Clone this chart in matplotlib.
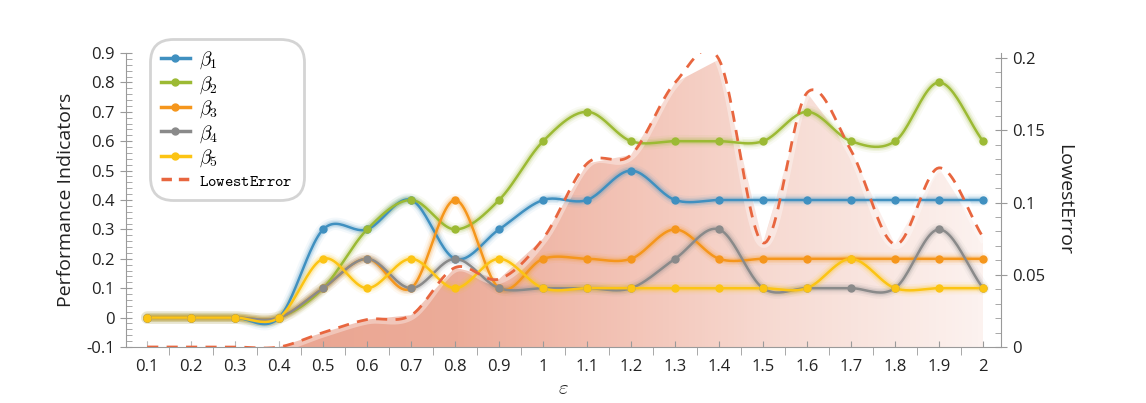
"""Performance indicators vs epsilon with LowestError on a twin axis."""

import matplotlib

matplotlib.use("Agg")
import numpy as np
from matplotlib import pyplot as plt
from matplotlib.lines import Line2D
from matplotlib.ticker import MultipleLocator, FixedLocator

eps = [0.1, 0.2, 0.3, 0.4, 0.5, 0.6, 0.7, 0.8, 0.9, 1.0,
       1.1, 1.2, 1.3, 1.4, 1.5, 1.6, 1.7, 1.8, 1.9, 2.0]
beta1 = [0, 0, 0, 0, 0.3, 0.3, 0.4, 0.2, 0.3, 0.4,
         0.4, 0.5, 0.4, 0.4, 0.4, 0.4, 0.4, 0.4, 0.4, 0.4]
beta2 = [0, 0, 0, 0, 0.1, 0.3, 0.4, 0.3, 0.4, 0.6,
         0.7, 0.6, 0.6, 0.6, 0.6, 0.7, 0.6, 0.6, 0.8, 0.6]
beta3 = [0, 0, 0, 0, 0.1, 0.2, 0.1, 0.4, 0.1, 0.2,
         0.2, 0.2, 0.3, 0.2, 0.2, 0.2, 0.2, 0.2, 0.2, 0.2]
beta4 = [0, 0, 0, 0, 0.1, 0.2, 0.1, 0.2, 0.1, 0.1,
         0.1, 0.1, 0.2, 0.3, 0.1, 0.1, 0.1, 0.1, 0.3, 0.1]
beta5 = [0, 0, 0, 0, 0.2, 0.1, 0.2, 0.1, 0.2, 0.1,
         0.1, 0.1, 0.1, 0.1, 0.1, 0.1, 0.2, 0.1, 0.1, 0.1]
lowest_error = [0, 0, 0, 0, 0.010, 0.019, 0.022, 0.055, 0.047, 0.075,
                0.127, 0.133, 0.183, 0.199, 0.072, 0.176, 0.136, 0.071, 0.124, 0.076]

series = [
    (r"$\beta_1$", beta1, "#4090c0"),
    (r"$\beta_2$", beta2, "#9cba34"),
    (r"$\beta_3$", beta3, "#f5961c"),
    (r"$\beta_4$", beta4, "#8a8a8a"),
    (r"$\beta_5$", beta5, "#fcc414"),
]
err_color = "#e8663f"
axis_color = "#9a9a9a"
text_color = "#222222"

plt.rcParams["font.family"] = ["Open Sans", "DejaVu Sans"]
plt.rcParams["mathtext.fontset"] = "cm"


def smooth(x, y, n=24):
    """Catmull-Rom style cubic through the points (drawing only)."""
    x = np.asarray(x, float)
    y = np.asarray(y, float)
    m = np.empty_like(y)
    m[1:-1] = (y[2:] - y[:-2]) / 2
    m[0] = y[1] - y[0]
    m[-1] = y[-1] - y[-2]
    xs, ys = [], []
    t = np.linspace(0, 1, n, endpoint=False)
    for i in range(len(x) - 1):
        h00 = 2 * t**3 - 3 * t**2 + 1
        h10 = t**3 - 2 * t**2 + t
        h01 = -2 * t**3 + 3 * t**2
        h11 = t**3 - t**2
        xs.append(x[i] + t * (x[i + 1] - x[i]))
        ys.append(h00 * y[i] + h10 * m[i] + h01 * y[i + 1] + h11 * m[i + 1])
    xs.append([x[-1]])
    ys.append([y[-1]])
    return np.concatenate(xs), np.concatenate(ys)


fig = plt.figure(figsize=(11.46, 4.03), dpi=100)
ax = fig.add_axes([0.110, 0.139, 0.7635, 0.7295])
ax2 = ax.twinx()
ax.set_zorder(ax2.get_zorder() + 1)
ax.patch.set_visible(False)

ax.set_xlim(0.052, 2.041)
ax.set_ylim(-0.1, 0.9)
ax2.set_ylim(0, 0.2035)

# gradient area under LowestError
poly = ax2.fill_between(eps, 0, lowest_error, color="none", lw=0)
grad = np.linspace(0, 1, 256)[None, :]
cmap = matplotlib.colors.LinearSegmentedColormap.from_list(
    "fade", [(0.0, "#e9a08c"), (0.37, "#ecac99"), (0.58, "#f3c4b7"),
             (0.76, "#f7dbd3"), (1.0, "#fcf2ef")])
im = ax2.imshow(grad, extent=(0.1, 2.0, 0, 0.21), aspect="auto",
                cmap=cmap, origin="lower", zorder=1, interpolation="bicubic")
im.set_clip_path(poly.get_paths()[0], transform=ax2.transData)
ax2.set_xlim(0.052, 2.041)
ax2.set_ylim(0, 0.2035)

# beta curves with a soft glow
for label, vals, color in series:
    sx, sy = smooth(eps, vals)
    for lw, a in [(9, 0.06), (6, 0.12), (4, 0.18)]:
        ax.plot(sx, sy, color=color, lw=lw, alpha=a, solid_capstyle="round", zorder=2)
    ax.plot(sx, sy, color=color, lw=1.8, zorder=3)
    ax.plot(eps, vals, "o", color=color, ms=5, zorder=4)

sx, sy = smooth(eps, lowest_error)
ax.plot(sx, sy, color="white", lw=7, alpha=0.35, transform=ax2.transData, zorder=2)
ax.plot(sx, sy, color=err_color, lw=2, ls=(0, (4, 3)), transform=ax2.transData, zorder=5)

# axes styling
for side in ["left", "bottom", "right"]:
    ax.spines[side].set_color(axis_color)
    ax2.spines[side].set_color(axis_color)
ax.spines["top"].set_visible(False)
ax2.spines["top"].set_visible(False)
ax.spines["right"].set_visible(False)
ax2.spines["left"].set_visible(False)
ax2.spines["bottom"].set_visible(False)

ax.xaxis.set_major_locator(FixedLocator(eps))
ax.set_xticklabels([f"{v:g}" for v in eps])
ax.xaxis.set_minor_locator(FixedLocator([v + 0.05 for v in eps[:-1]]))
ax.tick_params(axis="x", which="major", direction="in", length=4, color=axis_color,
               labelsize=12, labelcolor=text_color, pad=9)
ax.tick_params(axis="x", which="minor", direction="out", length=6, color=axis_color)

ax.set_yticks(np.arange(-0.1, 0.91, 0.1))
ax.set_yticklabels(["-0.1", "0", "0.1", "0.2", "0.3", "0.4", "0.5", "0.6", "0.7", "0.8", "0.9"])
ax.yaxis.set_minor_locator(MultipleLocator(0.02))
ax.tick_params(axis="y", which="major", direction="inout", length=9, color=axis_color,
               labelsize=12, labelcolor=text_color)
ax.tick_params(axis="y", which="minor", direction="in", length=4, color=axis_color)

ax2.set_yticks([0, 0.05, 0.1, 0.15, 0.2])
ax2.set_yticklabels(["0", "0.05", "0.1", "0.15", "0.2"])
ax2.yaxis.set_minor_locator(MultipleLocator(0.01))
ax2.tick_params(axis="y", which="major", direction="inout", length=9, color=axis_color,
                labelsize=12, labelcolor=text_color)
ax2.tick_params(axis="y", which="minor", direction="in", length=4, color=axis_color)

ax.set_ylabel("Performance Indicators", fontsize=14, color=text_color, labelpad=8)
ax2.set_ylabel("LowestError", fontsize=14, color=text_color, rotation=-90, labelpad=20)
ax.set_xlabel(r"$\varepsilon$", fontsize=15, color=text_color, labelpad=2)

handles = [Line2D([], [], color=c, lw=2.5, marker="o", ms=5) for _, _, c in series]
handles.append(Line2D([], [], color=err_color, lw=2.5, ls=(0, (3, 2))))
labels = [s[0] for s in series] + [r"$\mathtt{LowestError}$"]
leg = ax.legend(handles, labels, loc="upper left", bbox_to_anchor=(144 / 1146, 1 - 33 / 403),
                bbox_transform=fig.transFigure, fontsize=14, handlelength=1.5,
                handletextpad=0.5, labelspacing=0.15, borderpad=0.35, fancybox=True,
                framealpha=1, edgecolor="#d4d4d4")
leg.get_frame().set_linewidth(2)
leg.get_frame().set_boxstyle("round", pad=0.2, rounding_size=1.2)
leg.texts[-1].set_fontsize(11.5)

fig.savefig("out.png", dpi=100)
